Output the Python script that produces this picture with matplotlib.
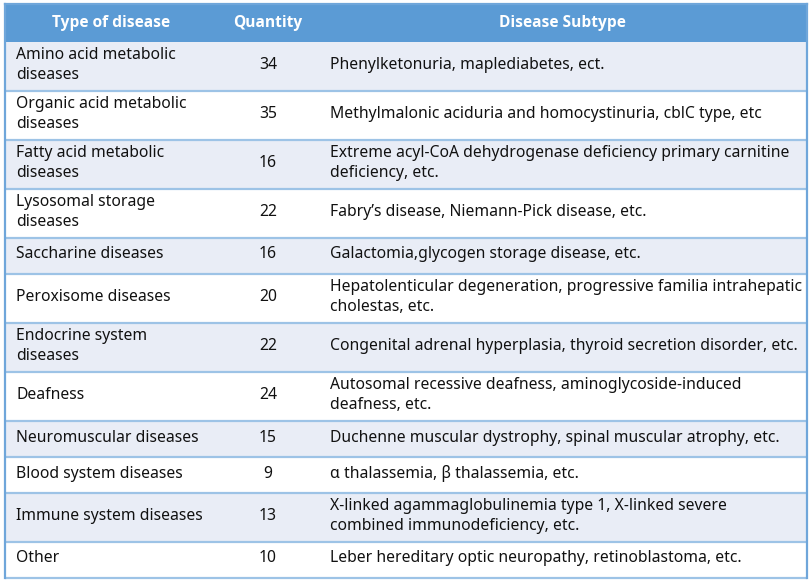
import matplotlib.pyplot as plt
from matplotlib.patches import Rectangle

headers = ["Type of disease", "Quantity", "Disease Subtype"]
disease_types = [
    "Amino acid metabolic\ndiseases",
    "Organic acid metabolic\ndiseases",
    "Fatty acid metabolic\ndiseases",
    "Lysosomal storage\ndiseases",
    "Saccharine diseases",
    "Peroxisome diseases",
    "Endocrine system\ndiseases",
    "Deafness",
    "Neuromuscular diseases",
    "Blood system diseases",
    "Immune system diseases",
    "Other",
]
quantities = [34, 35, 16, 22, 16, 20, 22, 24, 15, 9, 13, 10]
subtypes = [
    "Phenylketonuria, maplediabetes, ect.",
    "Methylmalonic aciduria and homocystinuria, cblC type, etc",
    "Extreme acyl-CoA dehydrogenase deficiency primary carnitine\ndeficiency, etc.",
    "Fabry\u2019s disease, Niemann-Pick disease, etc.",
    "Galactomia,glycogen storage disease, etc.",
    "Hepatolenticular degeneration, progressive familia intrahepatic\ncholestas, etc.",
    "Congenital adrenal hyperplasia, thyroid secretion disorder, etc.",
    "Autosomal recessive deafness, aminoglycoside-induced\ndeafness, etc.",
    "Duchenne muscular dystrophy, spinal muscular atrophy, etc.",
    "\u03b1 thalassemia, \u03b2 thalassemia, etc.",
    "X-linked agammaglobulinemia type 1, X-linked severe\ncombined immunodeficiency, etc.",
    "Leber hereditary optic neuropathy, retinoblastoma, etc.",
]

# layout in pixels
W, H = 812, 583
left, right, top = 5, 807, 4
col_edges = [left, 218, 318, right]
header_h = 38
row_h_single, row_h_double = 36, 49
header_color = "#5B9BD5"
stripe_color = "#E9EDF6"
line_color = "#9DC3E6"
border_color = "#6FA6DA"
fs = 11.3

plt.rcParams["font.family"] = ["Noto Sans", "DejaVu Sans"]

fig = plt.figure(figsize=(W / 100, H / 100), dpi=100)
ax = fig.add_axes([0, 0, 1, 1])
ax.set_xlim(0, W)
ax.set_ylim(H, 0)
ax.axis("off")

# header
ax.add_patch(Rectangle((left, top), right - left, header_h, color=header_color, lw=0))
for i, h in enumerate(headers):
    cx = (col_edges[i] + col_edges[i + 1]) / 2
    ax.text(cx, top + header_h / 2, h, ha="center", va="center",
            color="white", fontsize=11.2, fontweight="bold",
            family=["Open Sans", "DejaVu Sans"])

y = top + header_h
for i, (name, q, sub) in enumerate(zip(disease_types, quantities, subtypes)):
    n_lines = max(name.count("\n"), sub.count("\n")) + 1
    rh = row_h_double if n_lines > 1 else row_h_single
    if i % 2 == 0:
        ax.add_patch(Rectangle((left, y), right - left, rh, color=stripe_color, lw=0))
    cy = y + rh / 2 - 1.5
    ax.text(col_edges[0] + 11, cy, name, ha="left", va="center",
            fontsize=fs, color="#111111", linespacing=1.3)
    ax.text((col_edges[1] + col_edges[2]) / 2, cy, str(q), ha="center",
            va="center", fontsize=fs, color="#111111")
    ax.text(col_edges[2] + 12, cy, sub, ha="left", va="center",
            fontsize=fs, color="#111111", linespacing=1.3)
    y += rh
    ax.plot([left, right], [y, y], color=line_color, lw=1.6,
            solid_capstyle="butt")

bottom = y
ax.plot([left, left], [top, bottom], color=border_color, lw=1.6)
ax.plot([right, right], [top, bottom], color=border_color, lw=1.6)
ax.plot([left, right], [top, top], color=border_color, lw=1.6)

fig.savefig("out.png", dpi=100)
